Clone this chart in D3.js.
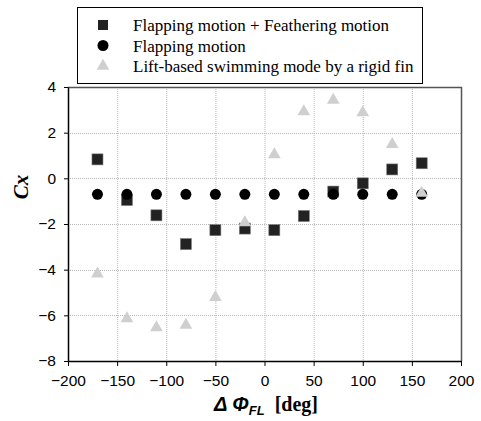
<!DOCTYPE html>
<html>
<head>
<meta charset="utf-8">
<script src="https://cdn.jsdelivr.net/npm/d3@7"></script>
<style>
  body { margin: 0; background: #fff; }
  svg { display: block; }
</style>
</head>
<body>
<div id="chart"></div>
<script>
// phase difference [deg]
const phase = [-170, -140, -110, -80, -50, -20, 10, 40, 70, 100, 130, 160];
// Cx values
const flapFeather = [0.83, -0.95, -1.62, -2.88, -2.27, -2.2, -2.27, -1.65, -0.58, -0.22, 0.39, 0.66];
const flapOnly = [-0.7, -0.7, -0.7, -0.7, -0.7, -0.7, -0.7, -0.7, -0.7, -0.7, -0.7, -0.7];
const rigidFin = [-4.18, -6.14, -6.54, -6.43, -5.21, -1.94, 1.04, 2.92, 3.43, 2.88, 1.49, -0.65];
const xTicks = [-200, -150, -100, -50, 0, 50, 100, 150, 200];
const yTicks = [-8, -6, -4, -2, 0, 2, 4];
const legendLabels = [
  "Flapping motion + Feathering motion",
  "Flapping motion",
  "Lift-based swimming mode by a rigid fin"
];

const width = 481, height = 421;
const margin = { top: 87, right: 20, bottom: 60, left: 68 };
const plotW = 461 - margin.left, plotH = 361 - margin.top;

const svg = d3.select("#chart").append("svg")
    .attr("width", width)
    .attr("height", height);

const x = d3.scaleLinear().domain([-200, 200]).range([margin.left, margin.left + plotW]);
const y = d3.scaleLinear().domain([-8, 4]).range([margin.top + plotH, margin.top]);

// grid
const grid = svg.append("g").attr("stroke", "#b8b8b8").attr("stroke-dasharray", "1,1");
grid.selectAll("line.v").data(xTicks.slice(1, -1)).join("line")
    .attr("x1", d => x(d) + 0.5).attr("x2", d => x(d) + 0.5)
    .attr("y1", y(4)).attr("y2", y(-8));
grid.selectAll("line.h").data(yTicks.slice(1, -1)).join("line")
    .attr("y1", d => Math.round(y(d)) + 0.5).attr("y2", d => Math.round(y(d)) + 0.5)
    .attr("x1", x(-200)).attr("x2", x(200));

// frame top/right
svg.append("path")
    .attr("d", `M${x(-200)},${y(4) + 0.5}H${x(200) + 0.5}V${y(-8)}`)
    .attr("fill", "none").attr("stroke", "#555").attr("stroke-width", 1.5);

// axes
const xAxis = svg.append("g")
    .attr("transform", `translate(0,${y(-8)})`)
    .call(d3.axisBottom(x).tickValues(xTicks).tickSize(5).tickPadding(9).tickSizeOuter(0));
const yAxis = svg.append("g")
    .attr("transform", `translate(${x(-200)},0)`)
    .call(d3.axisLeft(y).tickValues(yTicks).tickSize(4).tickPadding(8).tickSizeOuter(0));
[xAxis, yAxis].forEach(a => {
  a.select(".domain").attr("stroke", "#000").attr("stroke-width", 1.5);
  a.selectAll(".tick line").attr("stroke", "#000");
  a.selectAll("text")
      .attr("fill", "#000")
      .style("font-family", "'Liberation Sans', Arial, sans-serif")
      .style("font-size", "15.5px");
});

// series: squares, then circles, then triangles on top
const sq = 11;
svg.append("g").selectAll("rect").data(phase).join("rect")
    .attr("x", (d, i) => x(d) - sq / 2)
    .attr("y", (d, i) => y(flapFeather[i]) - sq / 2)
    .attr("width", sq).attr("height", sq)
    .attr("fill", "#222").attr("stroke", "#777").attr("stroke-width", 0.6);

svg.append("g").selectAll("circle").data(phase).join("circle")
    .attr("cx", d => x(d))
    .attr("cy", (d, i) => y(flapOnly[i]))
    .attr("r", 5.5)
    .attr("fill", "#000");

const tri = d3.symbol().type(d3.symbolTriangle).size(70);
svg.append("g").selectAll("path").data(phase).join("path")
    .attr("transform", (d, i) => `translate(${x(d)},${y(rigidFin[i])})`)
    .attr("d", tri)
    .attr("fill", "#cfcfcf");

// legend
const lg = svg.append("g");
lg.append("rect")
    .attr("x", 77.5).attr("y", 7.5).attr("width", 345).attr("height", 76)
    .attr("fill", "#fff").attr("stroke", "#000").attr("stroke-width", 1);
const rowY = [25, 45.5, 66];
lg.append("rect").attr("x", 103 - 5).attr("y", rowY[0] - 5).attr("width", 10).attr("height", 10).attr("fill", "#222");
lg.append("circle").attr("cx", 103).attr("cy", rowY[1]).attr("r", 5.5).attr("fill", "#000");
lg.append("path").attr("transform", `translate(103,${rowY[2]})`).attr("d", tri).attr("fill", "#cfcfcf");
lg.selectAll("text").data(legendLabels).join("text")
    .attr("x", 133).attr("y", (d, i) => rowY[i] + 6)
    .style("font-family", "'Liberation Serif', 'Times New Roman', serif")
    .style("font-size", "17px")
    .text(d => d);

// y label
svg.append("text")
    .attr("transform", "translate(28,187) rotate(-90)")
    .attr("text-anchor", "middle")
    .style("font-family", "'Liberation Serif', 'Times New Roman', serif")
    .style("font-size", "21px")
    .style("font-weight", "bold")
    .style("font-style", "italic")
    .text("Cx");

// x label
const xl = svg.append("text")
    .attr("x", 266).attr("y", 411)
    .attr("text-anchor", "middle")
    .style("font-weight", "bold")
    .style("font-size", "20px");
xl.append("tspan")
    .style("font-family", "'Liberation Sans', Arial, sans-serif")
    .style("font-style", "italic")
    .text("\u0394 \u03A6");
xl.append("tspan")
    .attr("dy", 4)
    .style("font-family", "'Liberation Sans', Arial, sans-serif")
    .style("font-style", "italic")
    .style("font-size", "13px")
    .text("FL");
xl.append("tspan")
    .attr("dy", -4)
    .style("font-family", "'Liberation Serif', 'Times New Roman', serif")
    .text("\u00A0 [deg]");
</script>
</body>
</html>
